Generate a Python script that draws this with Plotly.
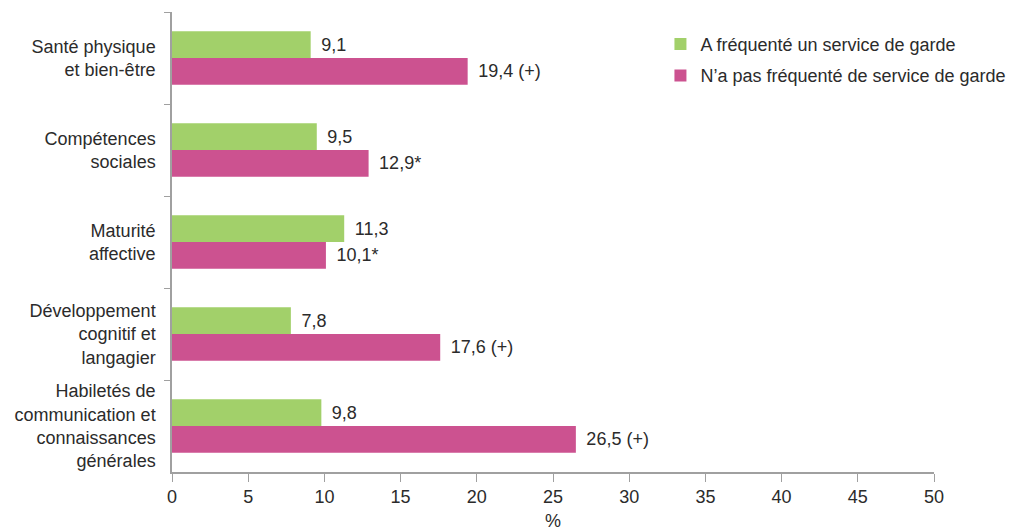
import plotly.graph_objects as go

categories = [
    "Santé physique<br>et bien-être",
    "Compétences<br>sociales",
    "Maturité<br>affective",
    "Développement<br>cognitif et<br>langagier",
    "Habiletés de<br>communication et<br>connaissances<br>générales",
]
frequente = [9.1, 9.5, 11.3, 7.8, 9.8]
frequente_labels = ["9,1", "9,5", "11,3", "7,8", "9,8"]
non_frequente = [19.4, 12.9, 10.1, 17.6, 26.5]
non_frequente_labels = ["19,4 (+)", "12,9*", "10,1*", "17,6 (+)", "26,5 (+)"]
x_ticks = [0, 5, 10, 15, 20, 25, 30, 35, 40, 45, 50]

font_family = "Liberation Sans, Arial, sans-serif"
text_color = "#2b2b2b"
fs = 18
pad = "\u2004\u200a"

fig = go.Figure()
fig.add_trace(go.Bar(
    y=categories, x=frequente, orientation="h",
    name="A fréquenté un service de garde", legendgroup="a",
    marker=dict(color="#a2d06a", line=dict(width=0)),
    text=[pad + t for t in frequente_labels], textposition="outside", cliponaxis=False,
    textfont=dict(size=fs, color=text_color, family=font_family),
))
fig.add_trace(go.Bar(
    y=categories, x=non_frequente, orientation="h",
    name="N’a pas fréquenté de service de garde", legendgroup="b",
    marker=dict(color="#cc5290", line=dict(width=0)),
    text=[pad + t for t in non_frequente_labels], textposition="outside", cliponaxis=False,
    textfont=dict(size=fs, color=text_color, family=font_family),
))

fig.update_layout(
    width=1017, height=531,
    margin=dict(l=172, r=83, t=12, b=59, autoexpand=False),
    paper_bgcolor="white", plot_bgcolor="white",
    barmode="group", bargap=0.42, bargroupgap=0,
    font=dict(family=font_family, size=fs, color=text_color),
    showlegend=True,
    legend=dict(
        x=0.641, y=0.97, xanchor="left", yanchor="top",
        font=dict(size=fs, color=text_color),
        bgcolor="rgba(0,0,0,0)", tracegroupgap=5, traceorder="grouped",
    ),
    uniformtext=dict(minsize=fs),
)
fig.update_xaxes(
    range=[0, 50], tickvals=x_ticks, ticktext=[str(v) for v in x_ticks],
    showgrid=False, zeroline=False, automargin=False,
    showline=True, linecolor="#a0a0a0", linewidth=1.5,
    ticks="outside", ticklen=8, tickcolor="#a0a0a0",
    tickfont=dict(size=fs, color=text_color),
    title=dict(text="%", font=dict(size=fs, color=text_color), standoff=8),
)
fig.update_yaxes(
    autorange="reversed", automargin=False,
    showgrid=False, zeroline=False,
    showline=True, linecolor="#a0a0a0", linewidth=1.5,
    ticks="outside", ticklen=6, tickcolor="#a0a0a0", tickson="boundaries",
    tickfont=dict(size=fs, color=text_color),
    ticklabelstandoff=11,
)

fig.write_html(
    "out.html",
    config={"displayModeBar": False},
    post_script="document.body.style.margin='0';document.body.style.overflow='hidden';",
)
